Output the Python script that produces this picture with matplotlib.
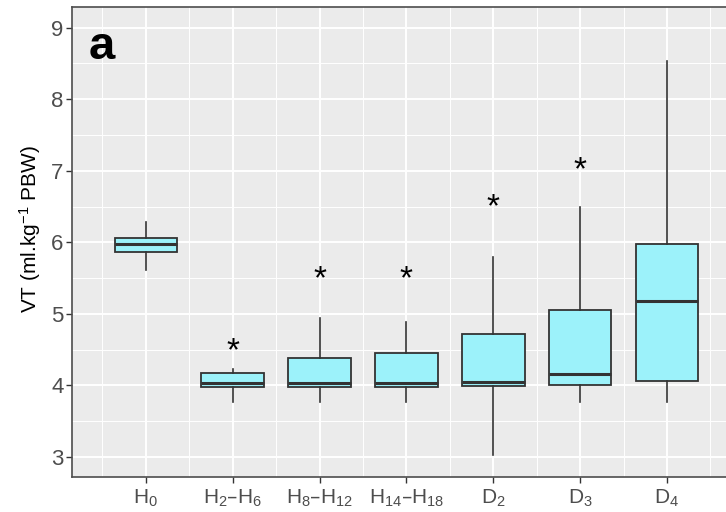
import matplotlib.pyplot as plt
import matplotlib.transforms as mtransforms

plt.rcParams['font.family'] = ['Liberation Sans', 'DejaVu Sans']
plt.rcParams['mathtext.default'] = 'regular'

# groups and box statistics
groups = [r'$H_0$', r'$H_2$–$H_6$', r'$H_8$–$H_{12}$', r'$H_{14}$–$H_{18}$',
          r'$D_2$', r'$D_3$', r'$D_4$']
whis_low = [5.62, 3.77, 3.77, 3.77, 3.03, 3.77, 3.77]
q1 = [5.87, 3.98, 3.98, 3.98, 3.99, 4.01, 4.06]
median = [5.98, 4.03, 4.03, 4.03, 4.05, 4.16, 5.18]
q3 = [6.06, 4.17, 4.38, 4.45, 4.72, 5.06, 5.97]
whis_high = [6.29, 4.23, 4.94, 4.89, 5.80, 6.50, 8.54]

# significance stars (group index, y)
star_idx = [1, 2, 3, 4, 5]
star_y = [4.59, 5.60, 5.60, 6.60, 7.11]

fig = plt.figure(figsize=(7.26, 5.12), dpi=100)
ax = fig.add_axes([0.0992, 0.0684, 0.9008, 0.918])
ax.set_facecolor('#EBEBEB')

pos = list(range(1, len(groups) + 1))
stats = []
for i in range(len(groups)):
    stats.append(dict(med=median[i], q1=q1[i], q3=q3[i],
                      whislo=whis_low[i], whishi=whis_high[i], fliers=[]))

edge = '#333333'
ax.bxp(stats, positions=pos, widths=0.72, patch_artist=True, showcaps=False,
       boxprops=dict(facecolor='#9CF2FA', edgecolor=edge, linewidth=1.3),
       medianprops=dict(color=edge, linewidth=2.2),
       whiskerprops=dict(color=edge, linewidth=1.2), zorder=3)

# the asterisk glyph sits high in its box, nudge it down a little
star_tr = ax.transData + mtransforms.ScaledTranslation(0, -6 / 72, fig.dpi_scale_trans)
for i, y in zip(star_idx, star_y):
    ax.text(pos[i], y, '*', ha='center', va='center', fontsize=24,
            color='black', zorder=4, transform=star_tr)

ax.text(0.026, 0.889, 'a', transform=ax.transAxes, fontsize=34,
        fontweight='bold', ha='left', va='baseline', zorder=4)

ax.set_xlim(0.15, 7.68)
ax.set_ylim(2.72, 9.29)

# ggplot-style grid
for v in [2.5 + k * 0.5 for k in range(15)]:
    major = float(v).is_integer()
    ax.axhline(v, color='white', lw=1.4 if major else 0.7, zorder=1)
for v in [0.5 + k * 0.5 for k in range(16)]:
    major = float(v).is_integer()
    ax.axvline(v, color='white', lw=1.4 if major else 0.7, zorder=1)

ax.set_xticks(pos)
ax.set_xticklabels(groups, fontsize=15, color='#4D4D4D')
ax.set_yticks(range(3, 10))
ax.tick_params(axis='y', labelsize=16, labelcolor='#4D4D4D', color='#333333',
               length=4, width=1, pad=2)
ax.tick_params(axis='x', color='#333333', length=4, width=1, pad=4)
ax.set_ylabel(r'VT (ml.kg$^{-1}$ PBW)', fontsize=15, color='black')
ax.yaxis.set_label_coords(-0.045, 0.528)

for s in ['left', 'bottom', 'top']:
    ax.spines[s].set_color('#4D4D4D')
    ax.spines[s].set_linewidth(1.2)
ax.spines['right'].set_visible(False)

fig.savefig('out.png', dpi=100)
